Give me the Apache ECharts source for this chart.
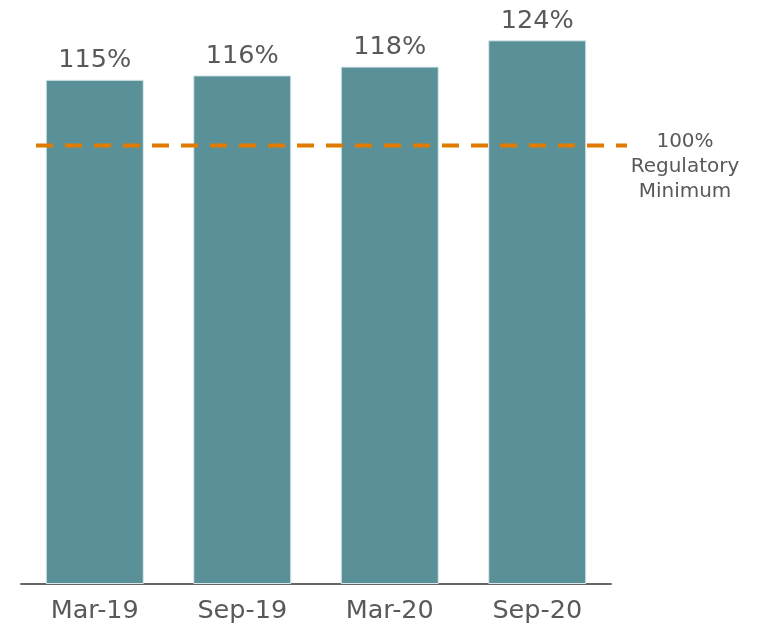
<!DOCTYPE html>
<html>
<head>
<meta charset="utf-8">
<script src="https://cdn.jsdelivr.net/npm/echarts@6/dist/echarts.min.js"></script>
<style>
  html, body { margin: 0; padding: 0; background: #fff; }
  #chart { width: 769px; height: 627px; }
</style>
</head>
<body>
<div id="chart"></div>
<script>
// 数据
var categories = ['Mar-19', 'Sep-19', 'Mar-20', 'Sep-20'];
var ratios = [115, 116, 118, 124];
var minimumLevel = 100;
var minimumText = ['100%', 'Regulatory', 'Minimum'];

var textColor = '#595959';
var barColor = '#5A9098';
var lineColor = '#E07B00';

var myChart = echarts.init(document.getElementById('chart'));
myChart.setOption({
  backgroundColor: '#fff',
  animation: false,
  textStyle: { fontFamily: 'DejaVu Sans' },
  grid: [
    { left: 21, right: 158, top: 14, bottom: 43 },
    { left: 36, right: 142, top: 14, bottom: 43 }
  ],
  xAxis: [{
    type: 'category',
    gridIndex: 0,
    data: categories,
    axisLine: { lineStyle: { color: '#666', width: 2 } },
    axisTick: { show: false },
    axisLabel: { color: textColor, fontSize: 25.5, margin: 14 }
  }, {
    type: 'value',
    gridIndex: 1,
    min: 0,
    max: 1,
    show: false
  }],
  yAxis: [{
    type: 'value',
    gridIndex: 0,
    min: 0,
    max: 130,
    show: false
  }, {
    type: 'value',
    gridIndex: 1,
    min: 0,
    max: 130,
    show: false
  }],
  series: [{
    name: 'ratio',
    type: 'bar',
    xAxisIndex: 0,
    yAxisIndex: 0,
    data: ratios,
    barWidth: 98,
    itemStyle: { color: barColor, borderColor: '#d6e6e8', borderWidth: 1 },
    label: {
      show: true,
      position: 'top',
      distance: 6,
      formatter: '{c}%',
      color: textColor,
      fontSize: 25.5
    }
  }, {
    name: 'minimum',
    type: 'line',
    xAxisIndex: 1,
    yAxisIndex: 1,
    data: [[0, minimumLevel], [1, minimumLevel]],
    symbol: 'none',
    z: 5,
    lineStyle: { color: lineColor, width: 4, type: [17, 12] }
  }],
  graphic: [{
    type: 'text',
    x: 685,
    y: 129,
    style: {
      text: minimumText.join('\n'),
      fill: textColor,
      font: '20px DejaVu Sans',
      lineHeight: 25,
      align: 'center'
    }
  }]
});
</script>
</body>
</html>
